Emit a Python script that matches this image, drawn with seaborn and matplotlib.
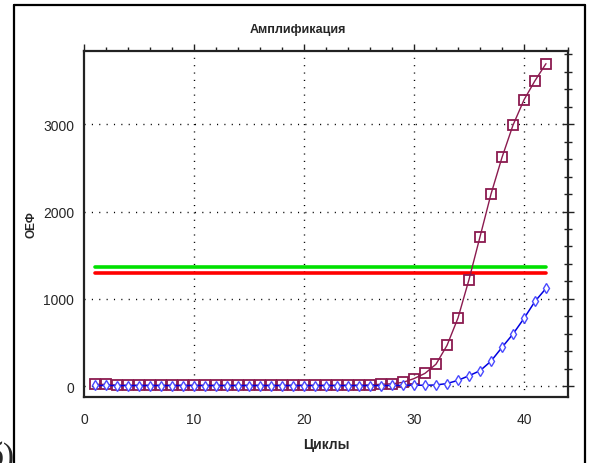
import numpy as np
import pandas as pd
import matplotlib
matplotlib.use("Agg")
import matplotlib.pyplot as plt
from matplotlib.lines import Line2D
from matplotlib.ticker import MultipleLocator
import seaborn as sns

cycles = list(range(1, 43))
series_a = [20, 18, 10, 9, 9, 9, 9, 9, 9, 9, 9, 9, 9, 9, 9, 9, 9, 9, 9, 9,
            9, 9, 9, 10, 10, 12, 20, 25, 42, 85, 145, 250, 465, 780, 1220, 1710,
            2200, 2620, 2990, 3280, 3500, 3695]
series_b = [6, 6, 5, 5, 5, 5, 5, 5, 5, 5, 5, 5, 5, 5, 5, 5, 5, 5, 5, 5,
            5, 5, 5, 5, 5, 5, 5, 6, 7, 10, 8, 12, 28, 65, 118, 175,
            285, 443, 596, 775, 970, 1119]
threshold_green = 1365
threshold_red = 1300
thr_x = [1, 42]

title = "Амплификация"
xlabel = "Циклы"
ylabel = "ОЕФ"

sns.set_style("white")
plt.rcParams['font.family'] = ['Liberation Sans Narrow', 'Liberation Sans', 'DejaVu Sans']

df = pd.DataFrame({"cycle": cycles, "a": series_a, "b": series_b})

fig = plt.figure(figsize=(5.89, 4.64), dpi=100)
ax = fig.add_axes([84/589, 1-398/464, (568-84)/589, (398-52)/464])

# grid
for xv in [10, 20, 30, 40]:
    ax.axvline(xv, color='black', lw=1.0, ls=(0, (0.8, 4.5)), zorder=0)
for yv in [0, 1000, 2000, 3000]:
    ax.axhline(yv, color='black', lw=1.0, ls=(0, (0.8, 4.5)), zorder=0)

sns.lineplot(x=thr_x, y=[threshold_green]*2, color='#00e000', lw=2.6, ax=ax)
sns.lineplot(x=thr_x, y=[threshold_red]*2, color='#ff0000', lw=2.6, ax=ax)

sns.lineplot(data=df, x="cycle", y="a", color='#8b1a4f', lw=1.0, marker='s',
             markersize=6.5, markerfacecolor='none', markeredgecolor='#8b1a4f',
             markeredgewidth=1.3, ax=ax)
sns.lineplot(data=df, x="cycle", y="b", color='#0000e0', lw=1.1, marker='d',
             markersize=5.5, markerfacecolor='white', markeredgecolor='#4a4aff',
             markeredgewidth=1.0, ax=ax)

ax.set_xlim(0, 44)
ax.set_ylim(-126, 3840)
ax.xaxis.set_major_locator(MultipleLocator(10))
ax.xaxis.set_minor_locator(MultipleLocator(2))
ax.yaxis.set_major_locator(MultipleLocator(1000))
ax.yaxis.set_minor_locator(MultipleLocator(200))
ax.tick_params(axis='both', which='both', top=True, right=True, color='#222222')
ax.tick_params(axis='x', which='major', direction='out', length=5, width=1, labelsize=10, pad=6)
ax.tick_params(axis='x', which='minor', direction='out', length=3, width=1)
ax.tick_params(axis='y', which='major', direction='inout', length=8, width=1, labelsize=10, pad=3)
ax.tick_params(axis='y', which='minor', direction='inout', length=6, width=1)
for sp in ax.spines.values():
    sp.set_color('#222222')
    sp.set_linewidth(1.6)

ax.set_xlabel(xlabel, fontsize=10, fontweight='bold', labelpad=8)
ax.set_ylabel(ylabel, fontsize=8.5, fontweight='bold', labelpad=4)
fig.text(298/589, 1-30/464, title, ha='center', va='center', fontsize=9, fontweight='bold')

# outer frame
fig.add_artist(Line2D([14/589, 14/589], [-0.01, 1-6/464], color='black', lw=1.6, transform=fig.transFigure))
fig.add_artist(Line2D([14/589, 585/589], [1-6/464, 1-6/464], color='black', lw=1.6, transform=fig.transFigure))
fig.add_artist(Line2D([585/589, 585/589], [-0.01, 1-6/464], color='black', lw=1.6, transform=fig.transFigure))

fig.text(14/589, -2/464, "б)", ha='right', va='baseline', fontsize=24, family=['Liberation Serif', 'DejaVu Serif'])

fig.savefig("out.png", dpi=100)
